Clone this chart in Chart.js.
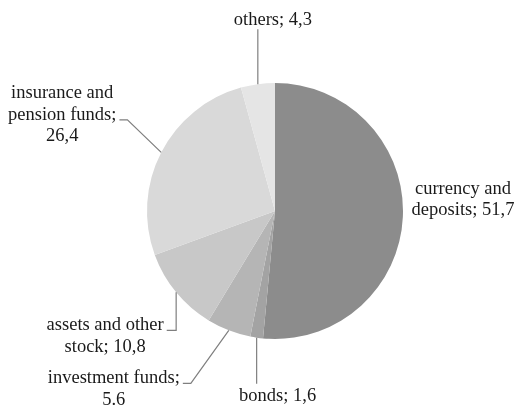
<!DOCTYPE html>
<html>
<head>
    <title>pie</title>
    <script src="https://cdn.jsdelivr.net/npm/chart.js"></script>
    <meta name="viewport" content="width=device-width, initial-scale=1.0">
    <style>
        html, body { margin: 0; padding: 0; background: #fff; }
        #box { width: 516px; height: 406px; }
    </style>
</head>
<body>
<div id="box"><canvas id="chart"></canvas></div>

<script>
    // data
    var labels = ["currency and deposits", "bonds", "investment funds", "assets and other stock", "insurance and pension funds", "others"];
    var values = [51.7, 1.6, 5.6, 10.8, 26.4, 4.3];
    var colors = ["#8c8c8c", "#a3a3a3", "#b5b5b5", "#c8c8c8", "#d9d9d9", "#e5e5e5"];

    // label text, split into lines as in the picture
    var labelLines = [
        ["currency and", "deposits; 51,7"],
        ["bonds; 1,6"],
        ["investment funds;", "5.6"],
        ["assets and other", "stock; 10,8"],
        ["insurance and", "pension funds;", "26,4"],
        ["others; 4,3"]
    ];
    // [text dx, text dy (first line centre) from slice edge, leader type, line the leader joins]
    var labelPos = [
        [0, 0, "none", 0],
        [21, 58, "down", 0],
        [-115, 48, "diag", 0],
        [-71, 33, "elbow", 0],
        [-99, -59, "diag", 1],
        [15, -64, "up", 0]
    ];

    var labelPlugin = {
        id: "pieLabels",
        afterDraw: function (chart) {
            var ctx = chart.ctx;
            var arcs = chart.getDatasetMeta(0).data;
            ctx.save();
            ctx.font = "18.5px 'Liberation Serif', 'Times New Roman', serif";
            ctx.fillStyle = "#1a1a1a";
            ctx.textAlign = "center";
            ctx.textBaseline = "middle";
            ctx.strokeStyle = "#7f7f7f";
            ctx.lineWidth = 1.2;
            arcs.forEach(function (arc, i) {
                var mid = (arc.startAngle + arc.endAngle) / 2;
                var px = arc.x + arc.outerRadius * Math.cos(mid);
                var py = arc.y + arc.outerRadius * Math.sin(mid);
                var lines = labelLines[i];
                var pos = labelPos[i];
                var tx, ty;
                if (pos[2] === "none") {
                    tx = arc.x + arc.outerRadius + 60;
                    ty = arc.y - 22;
                } else {
                    tx = px + pos[0];
                    ty = py + pos[1];
                }
                var lineH = 21.5;
                var w = ctx.measureText(lines[pos[3]]).width;
                var ly = ty + pos[3] * lineH + 5;
                var lx = tx + w / 2 + 3;
                ctx.beginPath();
                if (pos[2] === "down") {
                    ctx.moveTo(px, py);
                    ctx.lineTo(px, ty - 12);
                } else if (pos[2] === "up") {
                    ctx.moveTo(px, py);
                    ctx.lineTo(px, ty + 9);
                } else if (pos[2] === "diag") {
                    ctx.moveTo(px, py);
                    ctx.lineTo(lx + 8, ly);
                    ctx.lineTo(lx, ly);
                } else if (pos[2] === "elbow") {
                    ctx.moveTo(px, py);
                    ctx.lineTo(px, ly);
                    ctx.lineTo(lx, ly);
                }
                ctx.stroke();
                lines.forEach(function (s, k) {
                    ctx.fillText(s, tx, ty + k * lineH);
                });
            });
            ctx.restore();
        }
    };

    var ctx = document.getElementById("chart").getContext("2d");
    var chart = new Chart(ctx, {
        type: "pie",
        data: {
            labels: labels,
            datasets: [{
                data: values,
                backgroundColor: colors,
                borderWidth: 0
            }]
        },
        options: {
            responsive: true,
            maintainAspectRatio: false,
            animation: false,
            layout: {
                padding: { left: 147, right: 113, top: 83, bottom: 67 }
            },
            plugins: {
                legend: { display: false },
                tooltip: { enabled: false }
            }
        },
        plugins: [labelPlugin]
    });
</script>
</body>
</html>
